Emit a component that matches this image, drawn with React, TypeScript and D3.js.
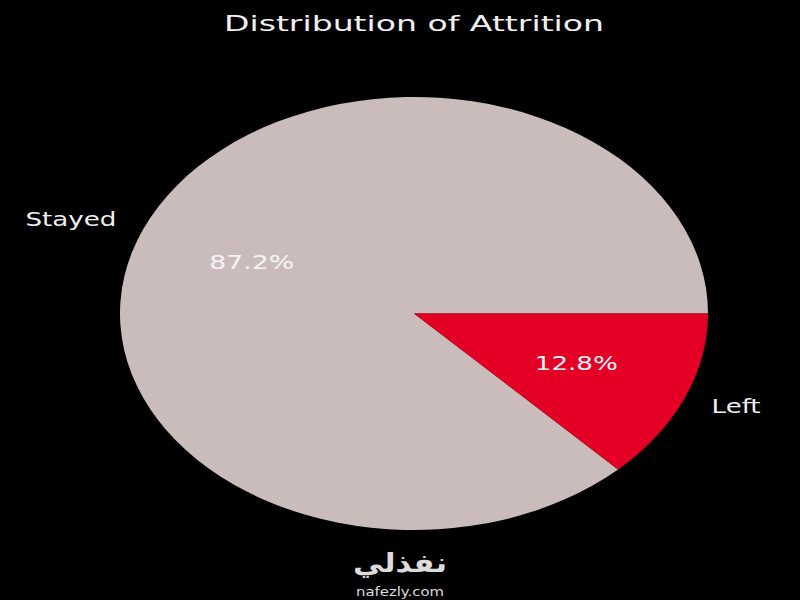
import React from "react";
import * as d3 from "d3";

const categories = ["Stayed", "Left"];
const values = [87.2, 12.8];
const colors = ["#c9bcbb", "#e40025"];

const W = 800;
const H = 600;
const cx = 414;
const cy = 313.5;
const rx = 294;
const ry = 216.5;

export default function App() {
  const pie = d3
    .pie<number>()
    .sort(null)
    .startAngle(Math.PI / 2)
    .endAngle(Math.PI / 2 - 2 * Math.PI);
  const arcs = pie(values);
  const arc = d3.arc<d3.PieArcDatum<number>>().innerRadius(0).outerRadius(1);
  const labelArc = d3.arc<d3.PieArcDatum<number>>().innerRadius(1.1).outerRadius(1.1);
  const pctArc = d3.arc<d3.PieArcDatum<number>>().innerRadius(0.6).outerRadius(0.6);
  const labelWidths = [91, 49];
  const pctWidths = [85, 83];

  return (
    <svg
      width={W}
      height={H}
      style={{ position: "absolute", left: 0, top: 0, background: "#000" }}
      fontFamily="DejaVu Sans"
    >
      <rect x={0} y={0} width={W} height={H} fill="#000" />
      <text
        x={414}
        y={31}
        textAnchor="middle"
        fill="#f0f0f0"
        fontSize={22}
        textLength={380}
        lengthAdjust="spacingAndGlyphs"
      >
        Distribution of Attrition
      </text>
      <g transform={`translate(${cx},${cy}) scale(${rx},${ry})`}>
        {arcs.map((a, i) => (
          <path key={i} d={arc(a) || ""} fill={colors[i]} />
        ))}
      </g>
      {arcs.map((a, i) => {
        const [lx, ly] = labelArc.centroid(a);
        const [px, py] = pctArc.centroid(a);
        return (
          <g key={i}>
            <text
              x={cx + lx * rx}
              y={cy + ly * ry}
              dy="0.3em"
              textAnchor={lx < 0 ? "end" : "start"}
              fill="#f0f0f0"
              fontSize={20}
              textLength={labelWidths[i]}
              lengthAdjust="spacingAndGlyphs"
            >
              {categories[i]}
            </text>
            <text
              x={cx + px * rx}
              y={cy + py * ry}
              dy="0.3em"
              textAnchor="middle"
              fill="#f5f5f5"
              fontSize={20}
              textLength={pctWidths[i]}
              lengthAdjust="spacingAndGlyphs"
            >
              {values[i].toFixed(1)}%
            </text>
          </g>
        );
      })}
      <text
        x={400}
        y={572}
        textAnchor="middle"
        fill="#dcdcdc"
        fontSize={26}
        fontWeight="bold"
        fontFamily="DejaVu Sans"
        textLength={94}
        lengthAdjust="spacingAndGlyphs"
      >
        نفذلي
      </text>
      <text
        x={400}
        y={596}
        textAnchor="middle"
        fill="#dcdcdc"
        fontSize={13}
        fontFamily="DejaVu Sans"
        textLength={88}
        lengthAdjust="spacingAndGlyphs"
      >
        nafezly.com
      </text>
    </svg>
  );
}
